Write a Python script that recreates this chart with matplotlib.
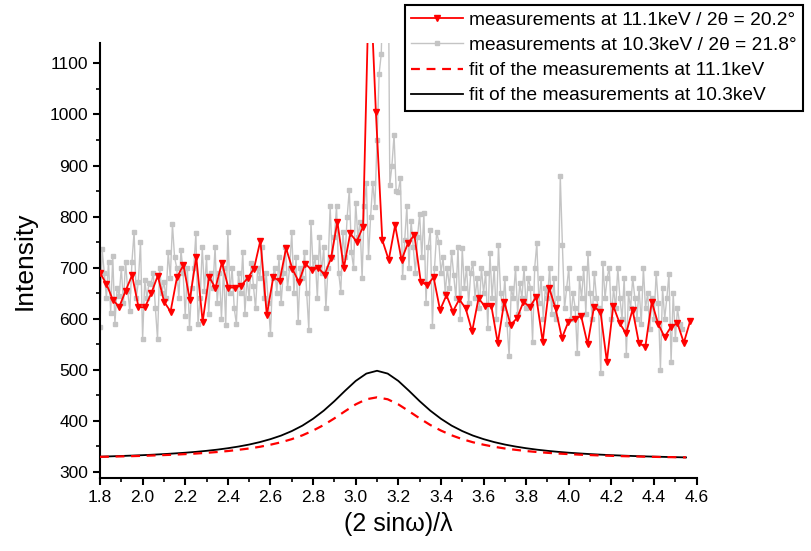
import numpy as np
import matplotlib
matplotlib.use("Agg")
import matplotlib.pyplot as plt
from matplotlib.ticker import MultipleLocator

plt.rcParams['font.family'] = ['Liberation Sans', 'DejaVu Sans']

# measurements at 11.1 keV (red triangles), ~0.03 steps from 1.80 to 4.57
red_y = [690, 668, 637, 623, 655, 685, 623, 622, 650, 684,
         633, 614, 681, 705, 637, 721, 594, 682, 660, 710,
         661, 661, 665, 679, 698, 753, 607, 681, 674, 738,
         697, 672, 708, 695, 700, 686, 718, 790, 699, 767,
         751, 780, 1300, 1005, 754, 715, 783, 715, 748, 764,
         672, 666, 681, 617, 646, 614, 638, 620, 575, 640,
         624, 625, 552, 633, 588, 601, 633, 623, 643, 555,
         661, 620, 562, 594, 600, 605, 550, 623, 614, 516,
         625, 591, 571, 618, 552, 545, 633, 590, 564, 584,
         591, 553, 596]
red_x = np.linspace(1.80, 4.57, len(red_y))

# measurements at 10.3 keV (grey squares), 0.01 steps from 1.80 to 4.53
grey_y = [584, 736, 690, 640, 712, 612, 722, 590, 660, 645,
          700, 630, 712, 655, 615, 712, 770, 640, 672, 751,
          560, 675, 640, 670, 668, 690, 620, 560, 700, 650,
          672, 640, 730, 680, 785, 720, 700, 640, 735, 690,
          605, 700, 581, 660, 700, 767, 590, 640, 740, 655,
          720, 610, 690, 660, 740, 630, 690, 600, 700, 588,
          770, 650, 700, 620, 590, 690, 650, 730, 610, 680,
          640, 710, 665, 620, 700, 680, 740, 640, 690, 630,
          570, 680, 700, 650, 720, 630, 690, 740, 660, 700,
          770, 650, 720, 594, 700, 680, 730, 650, 578, 790,
          700, 720, 640, 760, 690, 740, 620, 700, 820, 720,
          760, 820, 690, 653, 770, 720, 800, 853, 730, 700,
          827, 760, 790, 679, 820, 866, 720, 800, 866, 819,
          950, 1080, 1119, 1300, 1450, 1500, 862, 900, 960, 850,
          849, 875, 681, 754, 820, 700, 791, 740, 690, 760,
          806, 720, 807, 630, 740, 774, 586, 700, 770, 750,
          690, 720, 650, 700, 660, 730, 685, 640, 741, 600,
          738, 660, 700, 630, 690, 710, 640, 680, 620, 700,
          650, 690, 581, 728, 640, 700, 600, 744, 650, 620,
          680, 590, 526, 660, 640, 700, 610, 670, 640, 700,
          620, 680, 660, 555, 700, 748, 630, 680, 600, 660,
          640, 700, 610, 680, 600, 640, 880, 744, 620, 660,
          700, 600, 650, 620, 532, 680, 640, 700, 610, 728,
          650, 600, 690, 640, 620, 493, 710, 640, 680, 700,
          600, 660, 620, 700, 640, 600, 680, 529, 650, 620,
          680, 640, 600, 660, 590, 700, 620, 650, 580, 640,
          600, 690, 630, 500, 660, 600, 640, 687, 516, 650,
          560, 620, 590, 580]
grey_x = np.linspace(1.80, 4.53, len(grey_y))

# fits, 0.05 steps from 1.80 to 4.55
fit_x = np.linspace(1.80, 4.55, 56)
fit_red = [329.4, 329.8, 330.3, 330.8, 331.4, 332.1, 332.9, 333.7, 334.8, 335.9,
           337.3, 338.9, 340.8, 343.2, 345.8, 349.1, 353.2, 358.0, 364.1, 371.6,
           380.9, 391.8, 404.8, 418.8, 432.2, 442.2, 446.0,
           442.2, 432.2, 418.8, 404.8, 391.8, 380.9, 371.6, 364.1, 358.0, 353.2,
           349.1, 345.8, 343.2, 340.8, 338.9, 337.3, 335.9, 334.8, 333.7, 332.9,
           332.1, 331.4, 330.8, 330.3, 329.8, 329.4, 329.0, 328.7, 328.4]
fit_black = [329.8, 330.4, 331.1, 331.9, 332.7, 333.7, 334.8, 336.1, 337.5, 339.2,
             341.2, 343.5, 346.3, 349.6, 353.5, 358.3, 364.1, 371.1, 379.9, 390.6,
             404.0, 419.9, 438.5, 458.8, 478.1, 492.5, 498.0,
             492.5, 478.1, 458.8, 438.5, 419.9, 404.0, 390.6, 379.9, 371.1, 364.1,
             358.3, 353.5, 349.6, 346.3, 343.5, 341.2, 339.2, 337.5, 336.1, 334.8,
             333.7, 332.7, 331.9, 331.1, 330.4, 329.8, 329.3, 328.8, 328.3]

fig = plt.figure(figsize=(8.11, 5.51), dpi=100)
ax = fig.add_axes([0.1233, 0.1325, 0.7357, 0.7895])

ax.plot(red_x, red_y, color='red', lw=1.3, marker='v', markersize=5,
        label='measurements at 11.1keV / 2\u03b8 = 20.2\u00b0', zorder=3)
ax.plot(grey_x, grey_y, color='#c4c4c4', lw=1.0, marker='s', markersize=2.6,
        label='measurements at 10.3keV / 2\u03b8 = 21.8\u00b0', zorder=2)
ax.plot(fit_x, fit_red, color='red', lw=1.6, ls=(0, (4, 3)),
        label='fit of the measurements at 11.1keV', zorder=5)
ax.plot(fit_x, fit_black, color='black', lw=1.3,
        label='fit of the measurements at 10.3keV', zorder=4)

ax.set_xlim(1.8, 4.6)
ax.set_ylim(288, 1140)
ax.xaxis.set_minor_locator(MultipleLocator(0.1))
ax.yaxis.set_minor_locator(MultipleLocator(50))
ax.set_xticks(np.arange(1.8, 4.61, 0.2))
ax.set_xticklabels(['%.1f' % v for v in np.arange(1.8, 4.61, 0.2)])
ax.set_yticks(np.arange(300, 1101, 100))

for s in ['top', 'right']:
    ax.spines[s].set_visible(False)
for s in ['left', 'bottom']:
    ax.spines[s].set_linewidth(1.5)
ax.tick_params(which='major', direction='out', length=5, width=1.5, labelsize=12.5)
ax.tick_params(which='minor', direction='out', length=3, width=1.2)

ax.set_ylabel('Intensity', fontsize=19, labelpad=9)
ax.set_xlabel('(2 sin\u03c9)/\u03bb', fontsize=18, labelpad=5)

leg = fig.legend(loc='upper left', bbox_to_anchor=(0.499, 0.991), fontsize=13.8,
                 frameon=True, fancybox=False, edgecolor='black', framealpha=1,
                 handlelength=2.7, labelspacing=0.4, borderpad=0.35,
                 handletextpad=0.3, borderaxespad=0)
leg.get_frame().set_linewidth(1.5)

fig.savefig('out.png', dpi=100)
